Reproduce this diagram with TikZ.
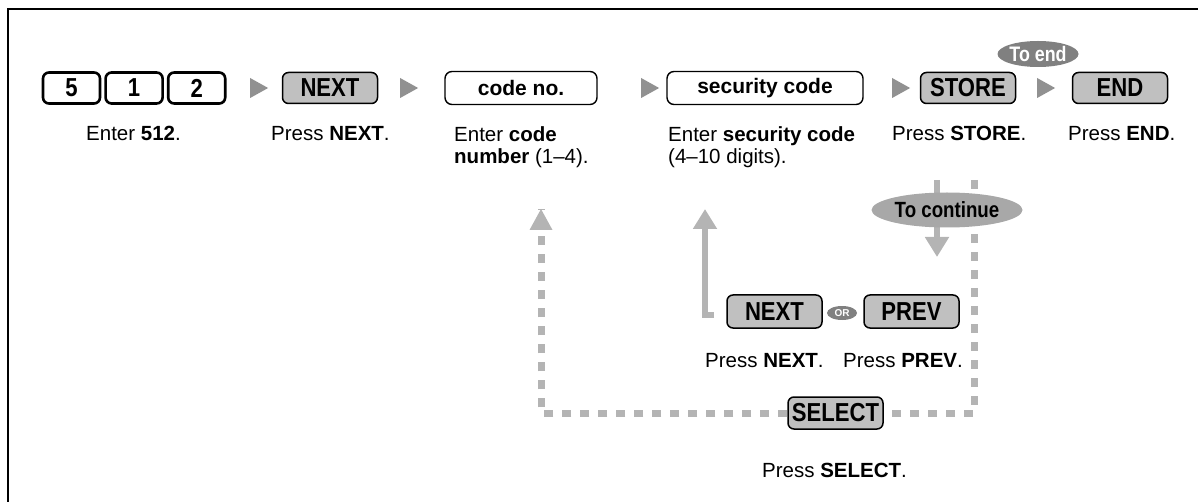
\documentclass[tikz,border=0pt]{standalone}
\usepackage{fontspec}
\setmainfont{Liberation Sans}
\newfontfamily\keyfont{Liberation Sans}[FakeStretch=0.85]
\usepackage{xcolor}
\usetikzlibrary{arrows.meta,positioning,calc,shapes.geometric}
\definecolor{keygray}{RGB}{192,192,192}
\definecolor{tipgray}{RGB}{145,145,145}
\definecolor{flowgray}{RGB}{180,180,180}
\definecolor{ovaldark}{RGB}{128,128,128}
\definecolor{ovallight}{RGB}{168,168,168}

\begin{document}
\begin{tikzpicture}[x=1pt,y=-1pt,
  every node/.style={font=\fontsize{20.5}{22.5}\selectfont},
  key/.style={draw,line width=1.5pt,rounded corners=6pt,fill=keygray,
    minimum width=95pt,minimum height=31pt,inner sep=0pt,
    font=\keyfont\bfseries\fontsize{26}{26}\selectfont},
  digitkey/.style={key,fill=white,minimum width=57pt,line width=2.6pt},
  field/.style={draw,line width=1.4pt,rounded corners=7pt,fill=white,
    minimum height=33pt,inner sep=0pt,font=\bfseries\fontsize{21}{21}\selectfont},
  pointer/.style={isosceles triangle,isosceles triangle stretches,fill=tipgray,
    minimum width=20pt,minimum height=18pt,inner sep=0pt},
  endoval/.style={ellipse,fill=ovaldark,text=white,inner sep=0pt,
    minimum width=81pt,minimum height=26pt,font=\keyfont\bfseries\fontsize{21}{21}\selectfont},
  contoval/.style={ellipse,fill=ovallight,inner sep=0pt,
    minimum width=151pt,minimum height=35pt,font=\keyfont\bfseries\fontsize{22}{22}\selectfont},
  ortag/.style={ellipse,fill=ovaldark,text=white,inner sep=0pt,
    minimum width=30pt,minimum height=14pt,font=\bfseries\fontsize{10}{10}\selectfont},
  lbl/.style={anchor=north west,align=left,inner sep=0pt},
  flow/.style={draw=flowgray,line width=6pt,-{Triangle[width=23pt,length=20pt]}},
  loop/.style={draw=flowgray,line width=7pt,dash pattern=on 9pt off 9pt}]
  \useasboundingbox (0,0) rectangle (1198,502);
  \draw[line width=2pt] (8,502) -- (8,9) -- (1198,9);

  % top row
  \node[digitkey] (d5) at (71.5,88) {5};
  \node[digitkey,right=3pt of d5] (d1) {1};
  \node[digitkey,right=3pt of d1] (d2) {2};
  \node[pointer] (p1) at (256,88) {};
  \node[key] (next) at (330,88) {NEXT};
  \node[pointer] (p2) at (406,88) {};
  \node[field,minimum width=152pt] (codeno) at (521,88) {code no.};
  \node[pointer] (p3) at (647,88) {};
  \node[field,minimum width=196pt] (seccode) at (765,88) {security code};
  \node[pointer] (p4) at (898,88) {};
  \node[key] (store) at (968,88) {STORE};
  \node[pointer] (p5) at (1043,88) {};
  \node[key] (end) at (1120,88) {END};
  \node[endoval] (toend) at (1038,54) {To end};

  \node[lbl] (l512) at (86,126) {Enter \textbf{512}.};
  \node[lbl] (lnext) at (271,126) {Press \textbf{NEXT}.};
  \node[lbl] (lcode) at (454,126) {Enter \textbf{code}\\\textbf{number} (1--4).};
  \node[lbl] (lsec) at (668,126) {Enter \textbf{security code}\\(4--10 digits).};
  \node[lbl] (lstore) at (892,126) {Press \textbf{STORE}.};
  \node[lbl] (lend) at (1068,126) {Press \textbf{END}.};

  % lower part
  \node[key,minimum height=33pt] (nextb) at (774.5,311.5) {NEXT};
  \node[ortag] (orb) at (842,313) {OR};
  \node[key,minimum height=33pt] (prevb) at (911.5,311.5) {PREV};
  \node[lbl] (lnextb) at (705,353) {Press \textbf{NEXT}.};
  \node[lbl] (lprevb) at (843,353) {Press \textbf{PREV}.};
  \node[key,minimum width=95pt,minimum height=32pt] (select) at (835.5,413) {SELECT};
  \node[lbl] (lselect) at (762,463) {Press \textbf{SELECT}.};

  \coordinate (retfoot) at (714,315);
  \coordinate (rettop) at (705,209);
  \coordinate (dropstart) at (937,180);
  \coordinate (dropend) at (937,257);
  \coordinate (loopstart) at (974,180);
  \coordinate (loopcorner) at (974,413);
  \coordinate (loopleft) at (541,413);
  \coordinate (looptop) at (541,209);

  \draw[flow] (retfoot) -| (rettop);
  \draw[flow] (dropstart) -- (dropend);
  \draw[loop] (loopstart) -- (loopcorner) -- (select.east);
  \draw[loop] (select.west) -- (loopleft) -- (looptop);
  \fill[flowgray] (looptop) ++(-11.5,21) -- ++(23,0) -- (looptop) -- cycle;

  \node[contoval] (tocont) at (947,210) {To continue};
\end{tikzpicture}
\end{document}
